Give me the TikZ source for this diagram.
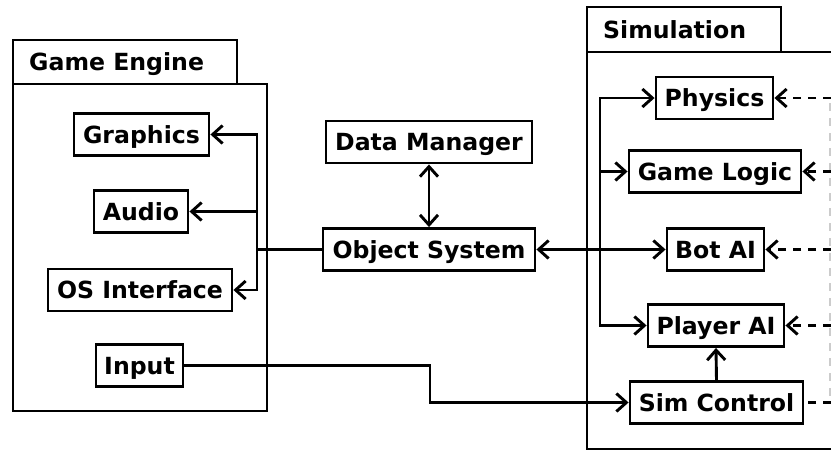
\documentclass[tikz,border=0pt]{standalone}
\usepackage{fontspec}
\setmainfont{DejaVu Sans}
\usetikzlibrary{arrows.meta}
\begin{document}
\begin{tikzpicture}[x=1pt,y=-1pt,
  comp/.style={draw,line width=2.9pt,minimum height=42pt,inner sep=0pt,text height=17.2pt,text depth=0pt,font=\fontsize{23.6}{26}\selectfont\bfseries},
  pkg/.style={draw,line width=2.9pt},
  conn/.style={line width=2.9pt},
  tip/.tip={Straight Barb[length=10pt,width=18pt,line width=2.9pt]},
  arr/.style={conn,-tip},
  dbl/.style={conn,tip-tip},
  darr/.style={conn,dash pattern=on 8pt off 7pt,-tip},
  dline/.style={conn,dash pattern=on 8pt off 7pt},
  lbl/.style={anchor=west,inner sep=0pt,text height=17.2pt,text depth=0pt,font=\fontsize{23.6}{26}\selectfont\bfseries}]
\useasboundingbox (0,0) rectangle (831,450);
\clip (0,0) rectangle (831,450);
% packages
\draw[pkg] (13,40) rectangle (237,84);
\draw[pkg] (13,84) rectangle (267,411);
\node[lbl] (ge) at (29,62) {Game Engine};
\draw[pkg] (587,7) rectangle (781,52);
\draw[pkg] (587,52) rectangle (845,449);
\node[lbl] (sim) at (603,30) {Simulation};
% components
\node[comp,minimum width=135pt] (gfx) at (141.5,134.5) {Graphics};
\node[comp,minimum width=94pt] (aud) at (141,211.5) {Audio};
\node[comp,minimum width=184pt] (os) at (140,290) {OS Interface};
\node[comp,minimum width=87pt] (inp) at (139.5,365.5) {Input};
\node[comp,minimum width=206pt] (dm) at (429,142) {Data Manager};
\node[comp,minimum width=212pt] (obj) at (429,249.5) {Object System};
\node[comp,minimum width=117pt] (phy) at (714.5,98) {Physics};
\node[comp,minimum width=172pt] (gl) at (715,171.5) {Game Logic};
\node[comp,minimum width=97pt] (bot) at (715.5,249.5) {Bot AI};
\node[comp,minimum width=136pt] (pai) at (716,325.5) {Player AI};
\node[comp,minimum width=173pt] (sc) at (716.5,402.5) {Sim Control};
% bus coordinates
\coordinate (bl) at (257,249.5);
\coordinate (br) at (600,249.5);
\coordinate (ex) at (831,0);
% game engine bus
\draw[conn] (obj.west) -- (bl);
\draw[arr] (bl) |- (gfx.east);
\draw[arr] (bl) |- (os.east);
\draw[arr] (257,211.5) -- (aud.east);
% data manager
\draw[dbl] (dm.south) -- (obj.north);
% object system to bot ai
\draw[dbl] (obj.east) -- (bot.west);
\draw[arr] (br) |- (phy.west);
\draw[arr] (br) |- (pai.west);
\draw[arr] (600,171.5) -- (gl.west);
% sim control to player ai
\draw[arr] (sc.north) -- (pai.south);
% input to sim control
\draw[arr] (inp.east) -- (430,365.5) |- (sc.west);
% dashed from right
\draw[gray!40,line width=1.2pt,dash pattern=on 8pt off 7pt] (830,103) -- (830,400);
\draw[darr] (ex |- phy.east) -- (phy.east);
\draw[darr] (ex |- gl.east) -- (gl.east);
\draw[darr] (ex |- bot.east) -- (bot.east);
\draw[darr] (ex |- pai.east) -- (pai.east);
\draw[dline] (ex |- sc.east) -- (sc.east);
\end{tikzpicture}
\end{document}
